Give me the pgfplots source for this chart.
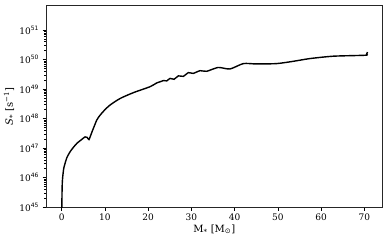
\documentclass[border=0pt]{standalone}
\usepackage{fontspec}
\setmainfont{DejaVu Serif}
\newfontfamily\dvs{DejaVu Sans}
\usepackage{pgfplots}
\pgfplotsset{compat=1.18}
\begin{document}
\begin{tikzpicture}
\useasboundingbox (-46pt,-36pt) rectangle (342.7pt,207pt);
\begin{axis}[
  at={(0,0)}, anchor=south west,
  scale only axis, width=336.3pt, height=201.7pt,
  ymode=log,
  xmin=-3.63, xmax=74.2,
  ymin=1e45, ymax=6.9e51,
  xtick={0,10,20,30,40,50,60,70},
  ytick={1e45,1e46,1e47,1e48,1e49,1e50,1e51},
  yticklabels={10{\dvs\textsuperscript{45}},10{\dvs\textsuperscript{46}},10{\dvs\textsuperscript{47}},10{\dvs\textsuperscript{48}},10{\dvs\textsuperscript{49}},10{\dvs\textsuperscript{50}},10{\dvs\textsuperscript{51}}},
  /pgf/number format/assume math mode=true,
  tick align=outside,
  xtick pos=bottom, ytick pos=left,
  major tick length=3.5pt, minor tick length=2pt,
  every tick/.style={black, line width=0.6pt},
  axis line style={line width=0.7pt, black!85},
  tick label style={font=\fontsize{9}{10}\selectfont},
  xlabel={M\textsubscript{*} [M\textsubscript{\dvs ⊙}]},
  ylabel={\textit{S}\textsubscript{*} [s\textsuperscript{−1}]},
  label style={font=\fontsize{10}{12}\selectfont},
  xlabel style={yshift=3pt},
  ylabel style={yshift=-2pt},
  clip=true,
]
\addplot[black, line width=1.4pt, smooth, tension=0.4] coordinates {
(0.0,1e44)
(0.05,2.0e45)
(0.12,6.3e45)
(0.23,1.07e46)
(0.45,2.0e46)
(0.76,3.0e46)
(1.2,4.8e46)
(1.9,7.4e46)
(2.6,1.02e47)
(3.5,1.45e47)
(4.5,1.9e47)
(5.4,2.4e47)
(5.9,2.3e47)
(6.3,1.95e47)
(7.0,3.55e47)
(8.1,8.9e47)
(8.9,1.32e48)
(10.0,2.0e48)
(11.2,2.9e48)
(13.5,4.8e48)
(16.6,7.6e48)
(20.4,1.2e49)
(22.0,1.62e49)
(23.0,1.82e49)
(23.5,1.95e49)
(24.3,1.9e49)
(25.05,2.3e49)
(25.98,2.15e49)
(26.98,2.8e49)
(28.1,2.7e49)
(29.3,3.6e49)
(30.4,3.4e49)
(32.0,4.2e49)
(33.5,4.0e49)
(36.2,5.4e49)
(38.9,4.8e49)
(42.0,7.3e49)
(45.0,7.1e49)
(49.7,7.3e49)
(53.5,8.7e49)
(57.4,1.08e50)
(62.8,1.3e50)
(70.2,1.4e50)
(70.5,1.52e50)
(70.7,1.8e50)
};
\end{axis}
\end{tikzpicture}
\end{document}
